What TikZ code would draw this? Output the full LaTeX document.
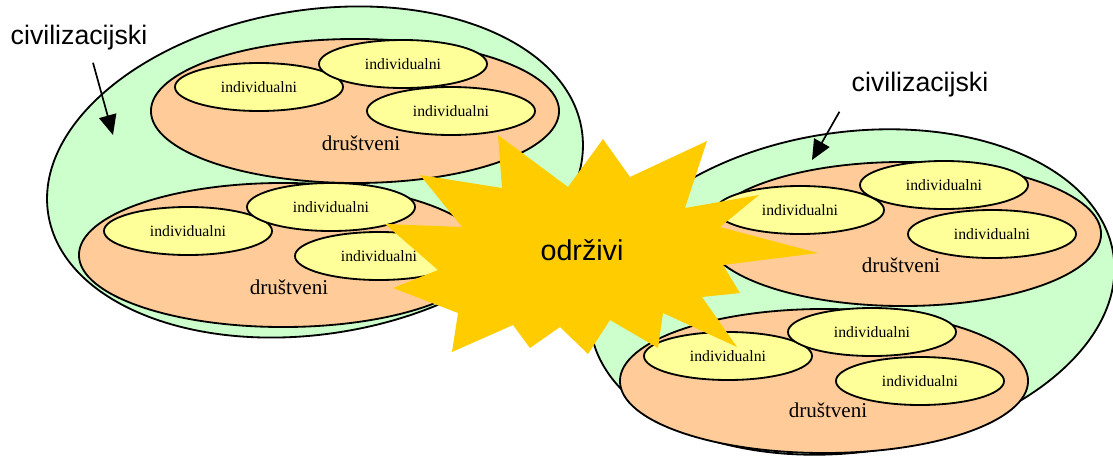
\documentclass[tikz,border=0pt]{standalone}
\usepackage{fontspec}
\setmainfont{Liberation Serif}
\setsansfont{Liberation Sans}
\usepackage{tikz}
\usetikzlibrary{shapes.geometric, arrows.meta}

\definecolor{civgreen}{HTML}{CCFFCC}
\definecolor{socorange}{HTML}{FFCC99}
\definecolor{indyellow}{HTML}{FFFF99}
\definecolor{burst}{HTML}{FFCC00}

\begin{document}
\begin{tikzpicture}[x=0.025cm, y=-0.025cm, >={Triangle[length=0.5cm, width=0.44cm]},
    civ/.style={ellipse, draw, line width=1.3pt, fill=civgreen, inner sep=0pt, minimum width=13.5cm, minimum height=8.1cm},
    soc/.style={ellipse, draw, line width=1.3pt, fill=socorange, inner sep=0pt, minimum width=10.2cm, minimum height=3.6cm},
    ind/.style={ellipse, draw, line width=1.3pt, fill=indyellow, inner sep=0pt, minimum width=4.2cm, minimum height=1.2cm, font=\fontsize{11.2}{13}\selectfont},
    soctext/.style={inner sep=0pt, font=\fontsize{15}{18}\selectfont},
    civtext/.style={inner sep=0pt, font=\sffamily\fontsize{19}{23}\selectfont},
    pointer/.style={->, line width=1.2pt}]

    \useasboundingbox (0,0) rectangle (1113,455);

    % Left cluster
    \node (civl) [civ, rotate=9] at (315,172) {};
    \node (socl1) [soc] at (355,111) {};
    \node (indl1) [ind] at (259,87) {individualni};
    \node (indl2) [ind] at (403,64) {individualni};
    \node (indl3) [ind] at (451,111) {individualni};
    \node (socl1-t) [soctext] at (361,143) {društveni};

    \node (socl2) [soc] at (283,255) {};
    \node (indl4) [ind] at (188,231) {individualni};
    \node (indl5) [ind] at (331,207) {individualni};
    \node (indl6) [ind] at (379,256) {individualni};
    \node (socl2-t) [soctext] at (289,287) {društveni};

    % Right cluster
    \node (civr) [civ, rotate=8, minimum width=13.2cm, minimum height=8cm] at (852,292) {};
    \node (socr1) [soc, minimum width=9.9cm] at (903,234) {};
    \node (indr1) [ind] at (800,210) {individualni};
    \node (indr2) [ind] at (944,185) {individualni};
    \node (indr3) [ind] at (992,234) {individualni};
    \node (socr1-t) [soctext] at (901,265) {društveni};

    \node (socr2) [soc] at (824,381) {};
    \node (indr4) [ind] at (728,356) {individualni};
    \node (indr5) [ind] at (872,332) {individualni};
    \node (indr6) [ind] at (920,381) {individualni};
    \node (socr2-t) [soctext] at (828,410) {društveni};

    % Labels with their pointers
    \node (civl-t) [civtext] at (79,38) {civilizacijski};
    \node (civr-t) [civtext] at (920,85) {civilizacijski};
    \coordinate (civl-tip) at (113,135);
    \coordinate (civr-tip) at (812,160);
    \draw [pointer] ([xshift=0.35cm, yshift=-0.3cm]civl-t.south) -- (civl-tip);
    \draw [pointer] ([xshift=-0.3cm, yshift=-0.35cm]civr-t.south west) -- (civr-tip);

    % Burst in the middle
    \fill [burst] (498,135) -- (568,187) -- (603,139) -- (630,177) -- (707,141)
        -- (685,208) -- (759,195) -- (720,227) -- (818,253) -- (723,265)
        -- (740,293) -- (702,297) -- (737,347) -- (663,313) -- (658,348)
        -- (610,320) -- (588,354) -- (560,327) -- (530,348) -- (513,325)
        -- (452,352) -- (458,313) -- (393,288) -- (438,270) -- (385,224)
        -- (462,227) -- (420,175) -- (502,188) -- cycle;
    \node (sust) [font=\sffamily\fontsize{20.4}{24}\selectfont] at (582,250) {održivi};

\end{tikzpicture}
\end{document}
